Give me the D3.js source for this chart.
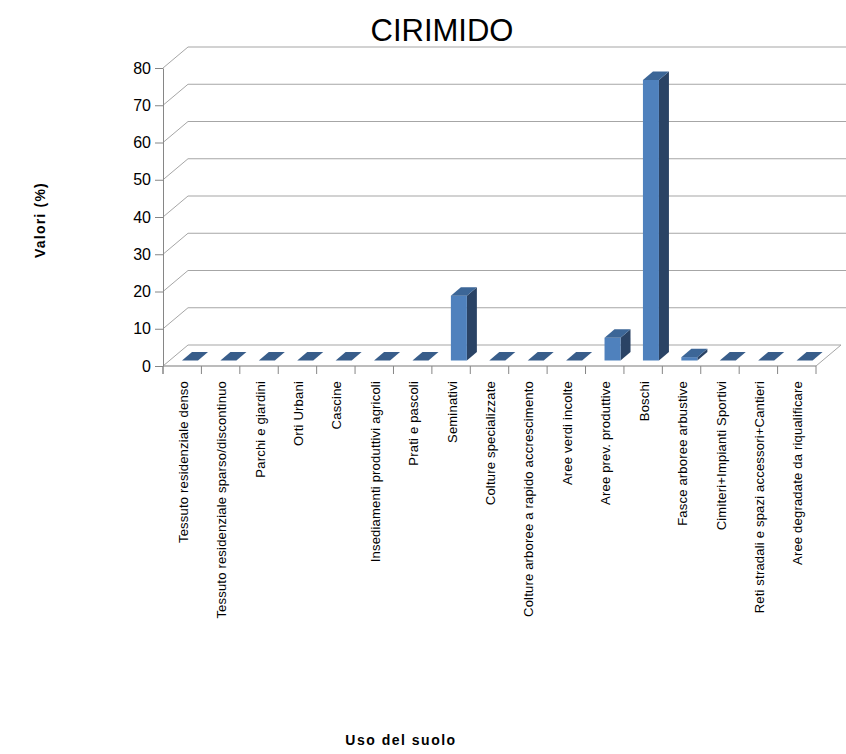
<!DOCTYPE html>
<html>
<head>
<meta charset="utf-8">
<script src="https://cdn.jsdelivr.net/npm/d3@7"></script>
<style>
  body { margin: 0; background: #fff; }
  text { font-family: "Liberation Sans", Arial, sans-serif; }
</style>
</head>
<body>
<div id="chart"></div>
<script>
// data
const categories = [
    "Tessuto residenziale denso",
    "Tessuto residenziale sparso/discontinuo",
    "Parchi e giardini",
    "Orti Urbani",
    "Cascine",
    "Insediamenti produttivi agricoli",
    "Prati e pascoli",
    "Seminativi",
    "Colture  specializzate",
    "Colture arboree a rapido accrescimento",
    "Aree verdi incolte",
    "Aree prev.  produttive",
    "Boschi",
    "Fasce arboree arbustive",
    "Cimiteri+Impianti Sportivi",
    "Reti stradali e spazi accessori+Cantieri",
    "Aree degradate da riqualificare"
];
const values = [0, 0, 0, 0, 0, 0, 0, 17.4, 0, 0, 0, 6.1, 75.3, 0.9, 0, 0, 0];
const yTicks = [0, 10, 20, 30, 40, 50, 60, 70, 80];

const width = 846, height = 754;

// 3d offsets (floor depth and bar depth)
const depthX = 25, depthY = -21;
const barOffX = 7, barOffY = -5.5;
const barDX = 10, barDY = -8.5;

const svg = d3.select("#chart")
    .append("svg")
    .attr("width", width)
    .attr("height", height);

const x = d3.scaleBand()
    .domain(categories)
    .range([163, 816])
    .paddingInner(0)
    .paddingOuter(0);

const y = d3.scaleLinear()
    .domain([0, 80])
    .range([366, 68]);

const gridColor = "#a6a6a6";
const axisColor = "#868686";

// back wall gridlines
svg.append("g")
    .selectAll("line")
    .data(yTicks)
    .enter()
    .append("line")
    .attr("x1", 163 + depthX)
    .attr("x2", d => d === 0 ? 816 + depthX : 846)
    .attr("y1", d => y(d) + depthY)
    .attr("y2", d => y(d) + depthY)
    .attr("stroke", gridColor)
    .attr("stroke-width", 1.2);

// left wall diagonals
svg.append("g")
    .selectAll("line")
    .data(yTicks)
    .enter()
    .append("line")
    .attr("x1", 163)
    .attr("x2", 163 + depthX)
    .attr("y1", d => y(d))
    .attr("y2", d => y(d) + depthY)
    .attr("stroke", gridColor)
    .attr("stroke-width", 1);

// floor front edge and right side
svg.append("line")
    .attr("x1", 163).attr("x2", 816)
    .attr("y1", y(0)).attr("y2", y(0))
    .attr("stroke", gridColor).attr("stroke-width", 1.5);
svg.append("line")
    .attr("x1", 816).attr("x2", 816 + depthX)
    .attr("y1", y(0)).attr("y2", y(0) + depthY)
    .attr("stroke", gridColor).attr("stroke-width", 1);

// category ticks at band edges
const edges = categories.map(c => x(c)).concat([x(categories[categories.length - 1]) + x.bandwidth()]);
svg.append("g")
    .selectAll("line")
    .data(edges)
    .enter()
    .append("line")
    .attr("x1", d => d).attr("x2", d => d)
    .attr("y1", y(0)).attr("y2", y(0) + 8)
    .attr("stroke", axisColor);

// y axis
const yAxis = svg.append("g")
    .attr("transform", "translate(163,0)")
    .call(d3.axisLeft(y).tickValues(yTicks).tickSize(8).tickSizeOuter(0).tickPadding(4));
yAxis.select(".domain").attr("stroke", axisColor);
yAxis.selectAll(".tick line").attr("stroke", axisColor);
yAxis.selectAll(".tick text")
    .attr("font-size", 16)
    .attr("font-family", "Liberation Sans, Arial, sans-serif")
    .attr("fill", "#000");
svg.append("line")
    .attr("x1", 163).attr("x2", 163)
    .attr("y1", y(0)).attr("y2", y(0) + 8)
    .attr("stroke", axisColor);

// bars
const barW = 16;
const bars = svg.append("g")
    .selectAll("g")
    .data(categories.map((c, i) => ({ cat: c, value: values[i] })))
    .enter()
    .append("g");

function bx(d) { return x(d.cat) + 12 + barOffX; }
function by(v) { return y(v) + barOffY; }

// side face
bars.filter(d => d.value > 0)
    .append("polygon")
    .attr("points", d => {
        const x0 = bx(d) + barW, yb = by(0), yt = by(d.value);
        return [[x0, yb], [x0 + barDX, yb + barDY], [x0 + barDX, yt + barDY], [x0, yt]].join(" ");
    })
    .attr("fill", "#2a4365");

// front face
bars.filter(d => d.value > 0)
    .append("rect")
    .attr("x", d => bx(d))
    .attr("y", d => by(d.value))
    .attr("width", barW)
    .attr("height", d => by(0) - by(d.value))
    .attr("fill", "#4f81bd");

// top face
bars.append("polygon")
    .attr("points", d => {
        const x0 = bx(d), yt = by(d.value);
        return [[x0, yt], [x0 + barW, yt], [x0 + barW + barDX, yt + barDY], [x0 + barDX, yt + barDY]].join(" ");
    })
    .attr("fill", d => d.value > 0 ? "#3c6697" : "#385d8a");

// category labels
svg.append("g")
    .selectAll("text")
    .data(categories)
    .enter()
    .append("text")
    .attr("transform", d => `translate(${x(d) + x.bandwidth() / 2 + 1}, 381) rotate(-90)`)
    .attr("text-anchor", "end")
    .attr("dy", "0.35em")
    .attr("font-size", 13)
    .attr("letter-spacing", 0.2)
    .attr("fill", "#000")
    .text(d => d);

// title
svg.append("text")
    .attr("x", 442)
    .attr("y", 41)
    .attr("text-anchor", "middle")
    .attr("font-size", 31)
    .attr("fill", "#000")
    .text("CIRIMIDO");

// axis titles
svg.append("text")
    .attr("transform", "translate(40,220) rotate(-90)")
    .attr("text-anchor", "middle")
    .attr("dy", "0.35em")
    .attr("font-size", 14)
    .attr("letter-spacing", 1.2)
    .attr("font-weight", "bold")
    .text("Valori (%)");

svg.append("text")
    .attr("x", 401)
    .attr("y", 745)
    .attr("text-anchor", "middle")
    .attr("font-size", 14)
    .attr("letter-spacing", 1.5)
    .attr("font-weight", "bold")
    .text("Uso del suolo");
</script>
</body>
</html>
